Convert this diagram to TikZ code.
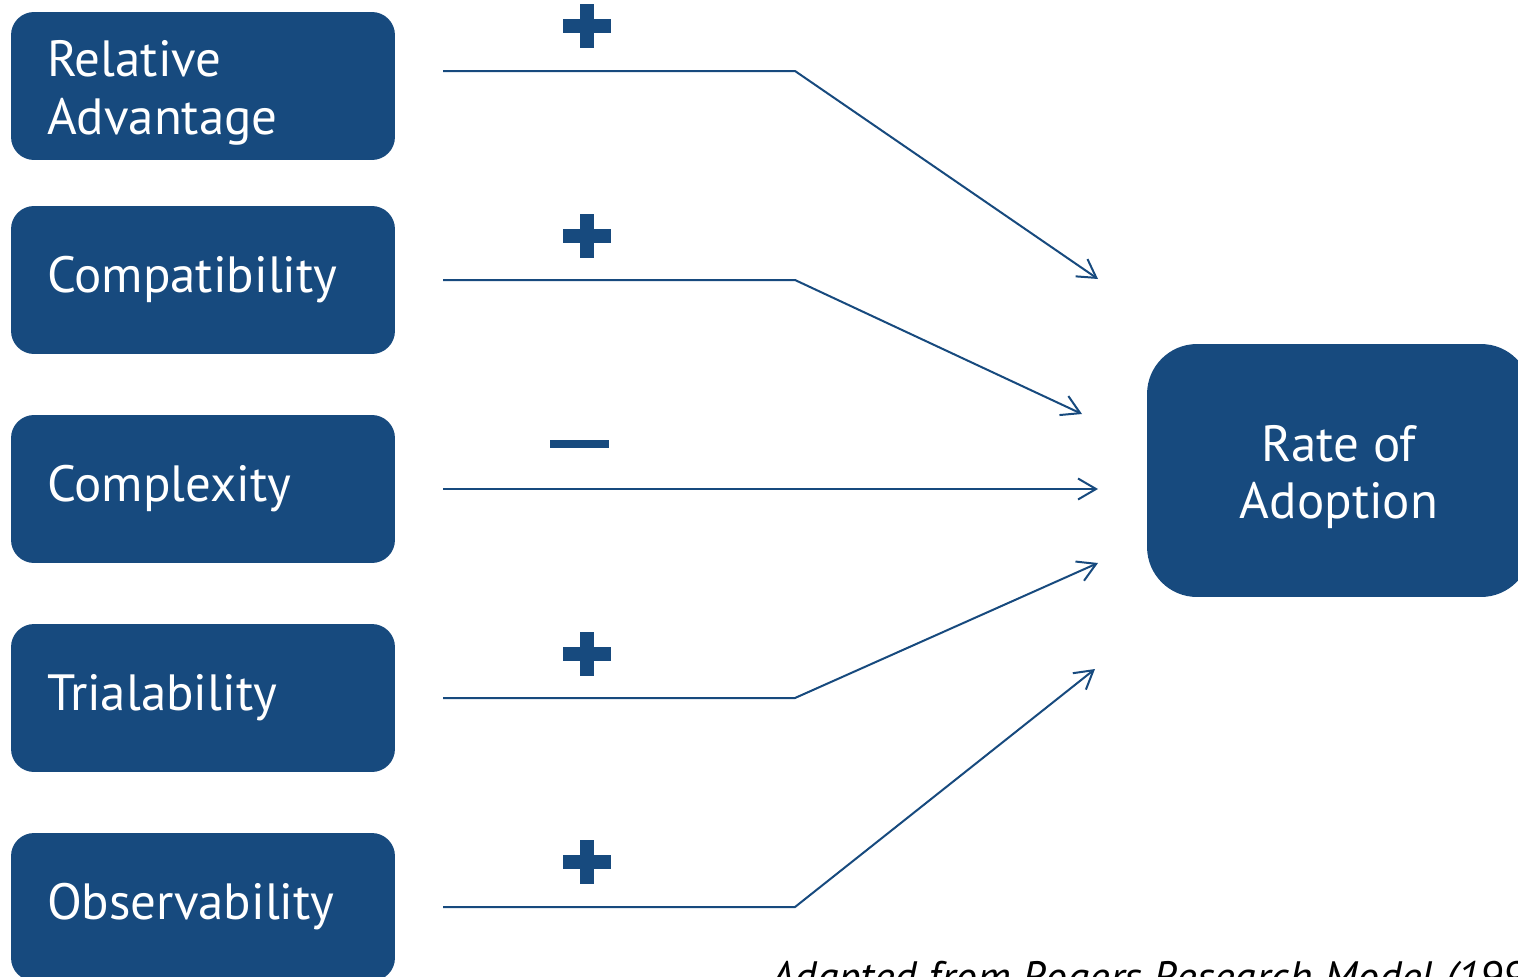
\documentclass[tikz,border=0pt]{standalone}
\usepackage{fontspec}
\setmainfont{PT Sans}
\usetikzlibrary{arrows.meta}
\usetikzlibrary{positioning}
\definecolor{rogersblue}{HTML}{174A7E}
\newcommand{\lowerline}{\rule{0pt}{28pt}}

\begin{document}
\begin{tikzpicture}[x=0.02cm,y=-0.02cm,
  attr/.style={fill=rogersblue,rounded corners=0.46cm,minimum width=7.68cm,minimum height=2.96cm,
    text width=6.24cm,inner xsep=0.72cm,align=left,text=white,font=\fontsize{29}{33}\selectfont},
  result/.style={fill=rogersblue,rounded corners=1cm,minimum width=7.68cm,minimum height=5.06cm,
    align=center,text=white,font=\fontsize{29}{33}\selectfont},
  link/.style={draw=rogersblue,line width=0.04cm,-{Straight Barb[length=0.36cm,width=0.42cm]}},
  sign/.style={draw=rogersblue,line width=0.28cm}]
\useasboundingbox (0,0) rectangle (1518,977);

\node[attr] (ra) at (203,86) {\lowerline Relative\\Advantage};
\node[attr] (cp) at (203,280) {Compatibility};
\node[attr] (cx) at (203,489) {Complexity};
\node[attr] (tr) at (203,698) {Trialability};
\node[attr] (ob) at (203,907) {Observability};
\node[result] (roa) at (1339,470.5) {\lowerline Rate of\\Adoption};

% start and bend points of the links
\coordinate (s1) at (443,71);  \coordinate (k1) at (795,71);  \coordinate (e1) at (1098,279);
\coordinate (s2) at (443,280); \coordinate (k2) at (795,280); \coordinate (e2) at (1082,414);
\coordinate (s3) at (443,489); \coordinate (e3) at (1098,489);
\coordinate (s4) at (443,698); \coordinate (k4) at (795,698); \coordinate (e4) at (1098,563);
\coordinate (s5) at (443,907); \coordinate (k5) at (795,907); \coordinate (e5) at (1095,669);

\draw[link] (s1) -- (k1) -- (e1);
\draw[link] (s2) -- (k2) -- (e2);
\draw[link] (s3) -- (e3);
\draw[link] (s4) -- (k4) -- (e4);
\draw[link] (s5) -- (k5) -- (e5);

% signs
\foreach \y in {26,236,654,862}
  \draw[sign] (563,\y) -- (611,\y) (587,\y-22) -- (587,\y+22);
\draw[draw=rogersblue,line width=0.16cm] (550,444) -- (609,444);

\node[anchor=base west,inner sep=0pt,font=\fontsize{25}{28}\selectfont\itshape] (src) at (770,992)
  {Adapted from Rogers Research Model (1995)};
\end{tikzpicture}
\end{document}
